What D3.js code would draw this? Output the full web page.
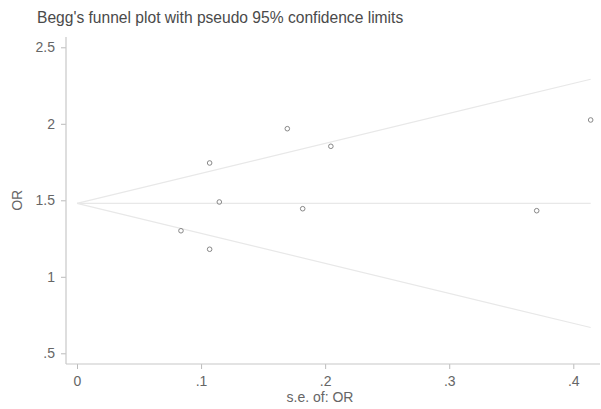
<!DOCTYPE html>
<html>
<head>
<meta charset="utf-8">
<script src="https://cdn.jsdelivr.net/npm/d3@7"></script>
<style>
  html, body { margin: 0; padding: 0; background: #fff; }
  svg { display: block; }
  text { font-family: "Liberation Sans", Arial, sans-serif; }
</style>
</head>
<body>
<script>
// Study estimates: standard error of OR and OR
const studySE = [0.0838, 0.1069, 0.1069, 0.1147, 0.1695, 0.1819, 0.2046, 0.3705, 0.4140];
const studyOR = [1.301, 1.744, 1.180, 1.489, 1.968, 1.445, 1.853, 1.432, 2.025];

// Pooled estimate and pseudo 95% limits multiplier
const pooledOR = 1.48;
const zCrit = 1.96;

const xTicks = [0, 0.1, 0.2, 0.3, 0.4];
const xTickLabels = ["0", ".1", ".2", ".3", ".4"];
const yTicks = [0.5, 1, 1.5, 2, 2.5];
const yTickLabels = [".5", "1", "1.5", "2", "2.5"];

const titleText = "Begg's funnel plot with pseudo 95% confidence limits";
const xTitle = "s.e. of: OR";
const yTitle = "OR";

(function draw() {
  const W = 601, H = 409;
  const plotLeft = 66, plotRight = 600, plotTop = 37, plotBottom = 364;

  const svg = d3.select("body").append("svg").attr("width", W).attr("height", H);

  const x = d3.scaleLinear().domain([0, 0.4]).range([77, 573.3]);
  const y = d3.scaleLinear().domain([0.5, 2.5]).range([353.3, 47.3]);

  // Title
  svg.append("text")
    .attr("x", 37).attr("y", 23)
    .attr("font-size", 15.6).attr("fill", "#4a4a4a")
    .text(titleText);

  // Funnel: pseudo confidence limits and pooled line
  const maxSE = d3.max(studySE);
  const lineGen = d3.line().x(d => x(d[0])).y(d => y(d[1]));
  const funnel = [
    [[0, pooledOR], [maxSE, pooledOR + zCrit * maxSE]],
    [[0, pooledOR], [maxSE, pooledOR - zCrit * maxSE]],
    [[0, pooledOR], [maxSE, pooledOR]]
  ];
  svg.append("g").selectAll("path").data(funnel).join("path")
    .attr("d", lineGen)
    .attr("fill", "none")
    .attr("stroke", "#e8e8e8")
    .attr("stroke-width", 1.2);

  // Axes
  const gx = svg.append("g").attr("transform", `translate(0,${plotBottom})`);
  gx.call(d3.axisBottom(x).tickValues(xTicks).tickFormat((d, i) => xTickLabels[i]).tickSize(5).tickPadding(7));
  const gy = svg.append("g").attr("transform", `translate(${plotLeft},0)`);
  gy.call(d3.axisLeft(y).tickValues(yTicks).tickFormat((d, i) => yTickLabels[i]).tickSize(5).tickPadding(6));

  [gx, gy].forEach(g => {
    g.select(".domain").remove();
    g.selectAll(".tick line").attr("stroke", "#bbb");
    g.selectAll(".tick text").attr("fill", "#666").attr("font-size", 14)
      .attr("font-family", "Liberation Sans, Arial, sans-serif");
  });

  // Axis lines
  svg.append("line").attr("x1", plotLeft).attr("x2", plotLeft).attr("y1", plotTop).attr("y2", plotBottom)
    .attr("stroke", "#c8c8c8").attr("stroke-width", 1.2);
  svg.append("line").attr("x1", plotLeft).attr("x2", plotRight).attr("y1", plotBottom).attr("y2", plotBottom)
    .attr("stroke", "#c8c8c8").attr("stroke-width", 1.2);

  // Axis titles
  svg.append("text")
    .attr("x", 320).attr("y", 402)
    .attr("text-anchor", "middle").attr("font-size", 14).attr("fill", "#666")
    .text(xTitle);
  svg.append("text")
    .attr("transform", `translate(22,${y(1.5)}) rotate(-90)`)
    .attr("text-anchor", "middle").attr("font-size", 14).attr("fill", "#666")
    .text(yTitle);

  // Study markers
  svg.append("g").selectAll("circle").data(studySE.map((s, i) => [s, studyOR[i]])).join("circle")
    .attr("cx", d => x(d[0])).attr("cy", d => y(d[1])).attr("r", 2.3)
    .attr("fill", "none").attr("stroke", "#888").attr("stroke-width", 1);
})();
</script>
</body>
</html>
